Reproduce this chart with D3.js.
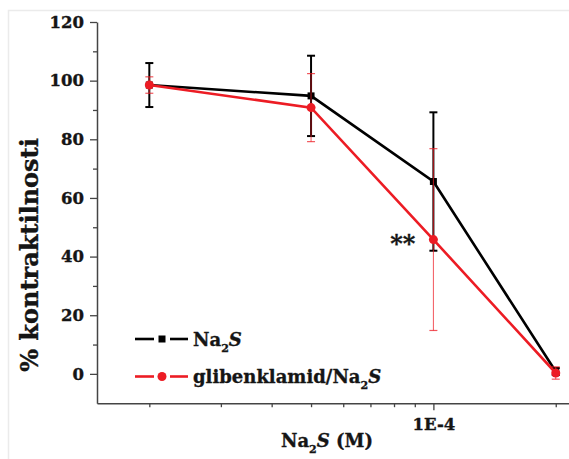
<!DOCTYPE html>
<html><head><meta charset="utf-8">
<script src="https://cdn.jsdelivr.net/npm/d3@7"></script>
<style>body{margin:0;background:#fff}svg{display:block}</style>
</head><body><svg id="c" width="569" height="459"></svg>
<script>
const concentrations = [2e-5, 5e-5, 1e-4, 2e-4];
const na2sMean = [98.5, 94.8, 65.6, 0.8];
const na2sErr = [7.5, 13.7, 23.6, 1.2];
const glibMean = [98.5, 90.8, 45.8, 0.3];
const glibErr = [2.8, 11.6, 31.0, 2.1];
const yMajorTicks = [0, 20, 40, 60, 80, 100, 120];
const yMinorTicks = [10, 30, 50, 70, 90, 110];
const xMajorTicks = [1e-4];
const xMinorTicks = [2e-5, 3e-5, 4e-5, 5e-5, 6e-5, 7e-5, 8e-5, 9e-5, 2e-4];
const significance = {x: 1e-4, y: 45.8, label: "**"};

const svg = d3.select("#c");
const font = "'DejaVu Serif', serif";
const red = "#ec1c24";
const ink = "#151515";

// faint outer frame
svg.append("path").attr("d", "M8.5,459 V10.5 H569").attr("fill", "none")
  .attr("stroke", "#ebebeb").attr("stroke-width", 1.5);

const x = d3.scaleLog().domain([1.487e-5, 2.156e-4]).range([97, 569]);
const y = d3.scaleLinear().domain([-10, 120]).range([403.2, 22]);

const axisColor = "#444";
function heavy(sel) {
  return sel.attr("stroke", ink).attr("stroke-width", 0.35);
}
function styleAxis(g) {
  g.select(".domain").attr("stroke", axisColor).attr("stroke-width", 1.5);
  g.selectAll(".tick line").attr("stroke", axisColor).attr("stroke-width", 1.3);
  heavy(g.selectAll(".tick text").attr("font-family", font).attr("font-weight", "bold")
    .attr("font-size", 16.5).attr("fill", ink));
}

// y axis
const gy = svg.append("g").attr("transform", "translate(97,0)")
  .call(d3.axisLeft(y).tickValues(yMajorTicks).tickSize(7).tickPadding(6).tickSizeOuter(0));
styleAxis(gy);
const gy2 = svg.append("g").attr("transform", "translate(97,0)")
  .call(d3.axisLeft(y).tickValues(yMinorTicks).tickSize(4).tickFormat("").tickSizeOuter(0));
styleAxis(gy2);
gy2.select(".domain").remove();

// x axis
const gx = svg.append("g").attr("transform", "translate(0,403.2)")
  .call(d3.axisBottom(x).tickValues(xMajorTicks).tickSize(7).tickPadding(8)
    .tickFormat(() => "1E-4").tickSizeOuter(0));
styleAxis(gx);
const gx2 = svg.append("g").attr("transform", "translate(0,403.2)")
  .call(d3.axisBottom(x).tickValues(xMinorTicks).tickSize(4).tickFormat("").tickSizeOuter(0));
styleAxis(gx2);
gx2.select(".domain").remove();

// axis titles
heavy(svg.append("text").attr("transform", "translate(38,255) rotate(-90)")
  .attr("text-anchor", "middle").attr("font-family", font).attr("font-weight", "bold")
  .attr("font-size", 24).attr("fill", ink).text("% kontraktilnosti"));

const xt = heavy(svg.append("text").attr("x", 327).attr("y", 447).attr("text-anchor", "middle")
  .attr("font-family", font).attr("font-weight", "bold").attr("font-size", 18).attr("fill", ink));
xt.append("tspan").text("Na");
xt.append("tspan").attr("font-size", 11).attr("dy", 6).text("2");
xt.append("tspan").attr("dy", -6).attr("font-style", "italic").text("S");
xt.append("tspan").text(" (M)");

function drawSeries(mean, err, color, lw, ew, marker) {
  const pts = concentrations.map((c, i) => ({c, m: mean[i], e: err[i]}));
  const g = svg.append("g");
  pts.forEach(p => {
    const xx = x(p.c), y0 = y(p.m - p.e), y1 = y(p.m + p.e);
    g.append("line").attr("x1", xx).attr("x2", xx).attr("y1", y0).attr("y2", y1)
      .attr("stroke", color).attr("stroke-width", ew).attr("stroke-opacity", ew < 1.5 ? 0.75 : 1);
    [y0, y1].forEach(yy => g.append("line").attr("x1", xx - 4).attr("x2", xx + 4)
      .attr("y1", yy).attr("y2", yy).attr("stroke", color).attr("stroke-width", ew < 1.5 ? 1.2 : 2)
      .attr("stroke-opacity", ew < 1.5 ? 0.75 : 1));
  });
  g.append("path").datum(pts).attr("fill", "none").attr("stroke", color).attr("stroke-width", lw)
    .attr("d", d3.line().x(d => x(d.c)).y(d => y(d.m)));
  pts.forEach(p => {
    if (marker === "square") g.append("rect").attr("x", x(p.c) - 3.5).attr("y", y(p.m) - 3.5)
      .attr("width", 7).attr("height", 7).attr("fill", color);
    else g.append("circle").attr("cx", x(p.c)).attr("cy", y(p.m)).attr("r", 4.5).attr("fill", color);
  });
}
drawSeries(na2sMean, na2sErr, "#000", 2.6, 2, "square");
drawSeries(glibMean, glibErr, red, 2.6, 1, "circle");

// significance marker
heavy(svg.append("text").attr("x", x(significance.x) - 18).attr("y", y(significance.y) + 12)
  .attr("text-anchor", "end").attr("font-family", font).attr("font-weight", "bold")
  .attr("font-size", 24).attr("fill", ink).text(significance.label));

// legend
const legend = [
  {color: "#000", marker: "square", main: "Na", sub: "2", tail: "S", y: 339},
  {color: red, marker: "circle", main: "glibenklamid/Na", sub: "2", tail: "S", y: 376.5}
];
legend.forEach(l => {
  const g = svg.append("g");
  g.append("line").attr("x1", 135).attr("x2", 154).attr("y1", l.y).attr("y2", l.y)
    .attr("stroke", l.color).attr("stroke-width", 2.6);
  g.append("line").attr("x1", 170).attr("x2", 188).attr("y1", l.y).attr("y2", l.y)
    .attr("stroke", l.color).attr("stroke-width", 2.6);
  if (l.marker === "square") g.append("rect").attr("x", 158.5).attr("y", l.y - 3.5)
    .attr("width", 7).attr("height", 7).attr("fill", l.color);
  else g.append("circle").attr("cx", 162).attr("cy", l.y).attr("r", 4.5).attr("fill", l.color);
  const t = heavy(g.append("text").attr("x", 193).attr("y", l.y + 6.5).attr("font-family", font)
    .attr("font-weight", "bold").attr("font-size", 18).attr("fill", ink));
  t.append("tspan").text(l.main);
  t.append("tspan").attr("font-size", 11).attr("dy", 6).text(l.sub);
  t.append("tspan").attr("dy", -6).attr("font-style", "italic").text(l.tail);
});
</script></body></html>
